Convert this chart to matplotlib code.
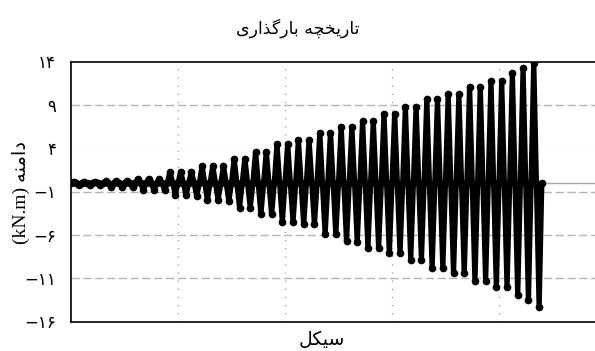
import numpy as np
import matplotlib
matplotlib.use("Agg")
import matplotlib.pyplot as plt

# ---- data ----
cycle_peaks = [0.15, 0.15, 0.15, 0.2, 0.25, 0.25, 0.45, 0.45, 0.45, 1.25, 1.3, 1.3,
               1.9, 1.95, 1.95, 2.8, 2.8, 3.6, 3.6, 4.45, 4.5, 4.95, 4.95, 5.8, 5.8,
               6.5, 6.5, 7.1, 7.1, 8.0, 8.0, 8.7, 8.8, 9.65, 9.65, 10.2, 10.2,
               11.1, 11.1, 11.75, 11.75, 12.65, 13.2, 13.85]
cycle_troughs = [-0.25, -0.25, -0.3, -0.45, -0.5, -0.5, -0.85, -0.85, -0.85, -1.35, -1.45, -1.5,
                 -1.95, -2.0, -2.1, -2.85, -2.85, -3.65, -3.65, -4.5, -4.5, -4.8, -4.8, -5.95, -5.95,
                 -6.7, -6.8, -7.5, -7.5, -8.15, -8.15, -8.85, -8.85, -9.8, -9.8, -10.4, -10.4,
                 -11.3, -11.3, -12.0, -12.0, -12.9, -13.5, -14.35]
y_ticks = [14, 9, 4, -1, -6, -11, -16]
x_grid = [10, 20, 30, 40]

# Persian text in visual (left-to-right) order using presentation forms
title_logical = "\uFE97\uFE8E\uFEAD\uFBFE\uFEA8\uFB7D\uFEEA \uFE91\uFE8E\uFEAD\uFB94\uFEAC\uFE8D\uFEAD\uFBFC"
xlabel_logical = "\uFEB3\uFBFF\uFB91\uFEDE"
ylabel_word_logical = "\uFEA9\uFE8D\uFEE3\uFEE8\uFEEA"
title_text = title_logical[::-1]
xlabel_text = xlabel_logical[::-1]
ylabel_text = "(kN.m) " + ylabel_word_logical[::-1]

fa_digits = str.maketrans("0123456789", "\u06F0\u06F1\u06F2\u06F3\u06F4\u06F5\u06F6\u06F7\u06F8\u06F9")
def fa(v):
    s = str(abs(v)).translate(fa_digits)
    return ("\u2212" + s) if v < 0 else s

# ---- build signal from cycle extremes ----
xs, ys = [], []
for i, (p, t) in enumerate(zip(cycle_peaks, cycle_troughs)):
    xs += [i, i + 0.25, i + 0.5, i + 0.75]
    ys += [0, p, 0, t]
xs.append(len(cycle_peaks))
ys.append(0)

fig = plt.figure(figsize=(5.95, 3.51), dpi=100)
ax = fig.add_axes([71 / 595, 1 - 321.5 / 351, 535 / 595, 260 / 351])
ax.set_xlim(0, 50)
ax.set_ylim(-16, 14)

for v in x_grid:
    ax.axvline(v, color="#9a9a9a", lw=0.9, ls=(0, (1, 5.5)), zorder=0)
for h in [9, -1, -6, -11]:
    ax.axhline(h, color="#b5b5b5", lw=1.0, ls=(0, (6, 2.5)), zorder=0)
ax.axhline(4, color="#ececec", lw=0.8, ls=(0, (1, 6)), zorder=0)
ax.axhline(0, color="#a8a8a8", lw=1.0, zorder=1)

ax.plot(xs, ys, color="black", lw=3.8, solid_joinstyle="round", solid_capstyle="round",
        marker="o", ms=4.5, zorder=3)

ax.set_xticks([])
ax.set_yticks(y_ticks)
ax.set_yticklabels([fa(v) for v in y_ticks], fontsize=12, family=["DejaVu Sans"])
ax.tick_params(axis="y", length=0, pad=11)
for s in ["left", "top", "bottom"]:
    ax.spines[s].set_linewidth(1.2)
    ax.spines[s].set_color("black")
ax.spines["right"].set_visible(False)

fig.text(0.5, 1 - 28 / 351, title_text, ha="center", va="center",
         fontsize=12.5, family=["DejaVu Sans"])
fig.text(322 / 595, 1 - 339 / 351, xlabel_text, ha="center", va="center",
         fontsize=13.5, family=["DejaVu Sans"])
fig.text(21 / 595, 1 - 192 / 351, ylabel_text, ha="center", va="center", rotation=90,
         fontsize=14, family=["Liberation Serif", "DejaVu Sans"])

fig.savefig("out.png", dpi=100)
